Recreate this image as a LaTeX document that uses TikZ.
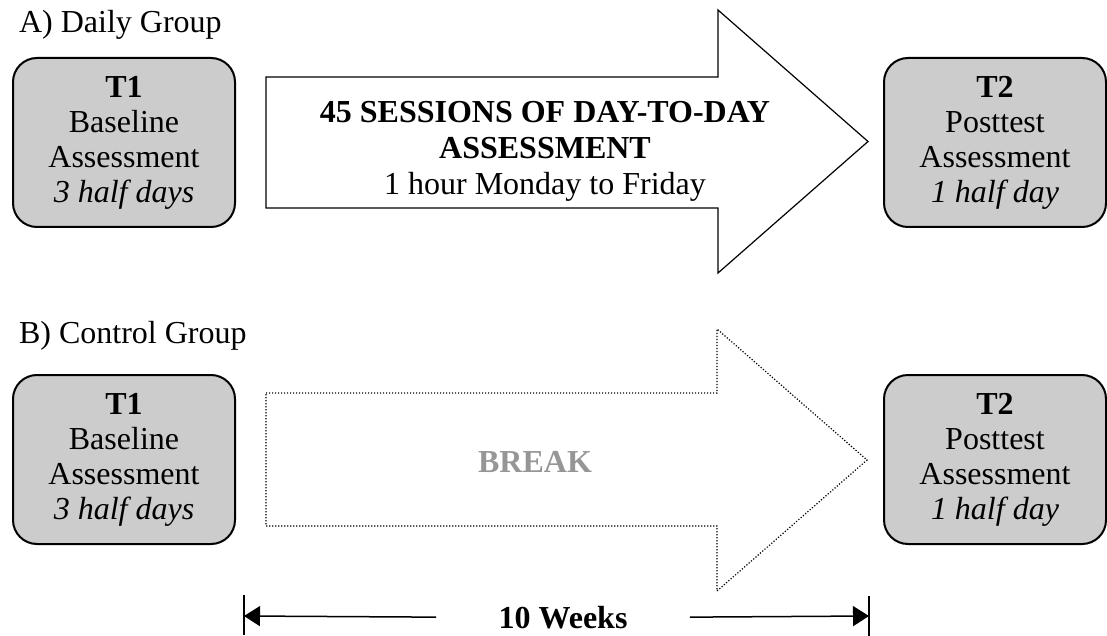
\documentclass[tikz,border=0pt]{standalone}
\usepackage{fontspec}
\setmainfont{Liberation Serif}
\usetikzlibrary{arrows.meta}
\definecolor{boxgray}{RGB}{204,204,204}
\definecolor{breakgray}{RGB}{150,150,150}

\begin{document}
\begin{tikzpicture}[x=0.5pt,y=-0.5pt,
  font=\fontsize{16}{18}\selectfont,
  stage/.style={draw,line width=1pt,fill=boxgray,rounded corners=12pt,
    minimum width=111pt,minimum height=84.5pt,align=center,
    font=\fontsize{16}{17.5}\selectfont},
  phase/.style={draw,line width=0.6pt},
  pause/.style={draw,line width=0.6pt,dash pattern=on 0.6pt off 0.9pt},
  span/.style={line width=0.75pt,-{Triangle[length=8pt,width=10pt]}}]
\useasboundingbox (0,0) rectangle (1107,636);
% daily group
\node[anchor=base west] (daily) at (12,33) {A) Daily Group};
\node[stage] (pre1) at (124,142.5) {\textbf{T1}\\Baseline\\Assessment\\\textit{3 half days}};
\draw[phase] (266,77) -- (718,77) -- (718,10) -- (868,141.5)
      -- (718,273) -- (718,208) -- (266,208) -- cycle;
\node[align=center,inner sep=0pt] (sessions) at (545,151)
      {\textbf{45 SESSIONS OF DAY-TO-DAY}\\\textbf{ASSESSMENT}\\1 hour Monday to Friday};
\node[stage] (post1) at (995,142.5) {\textbf{T2}\\Posttest\\Assessment\\\textit{1 half day}};
% control group
\node[anchor=base west] (control) at (12,343) {B) Control Group};
\node[stage] (pre2) at (124,459.5) {\textbf{T1}\\Baseline\\Assessment\\\textit{3 half days}};
\draw[pause] (266,393) -- (717,393) -- (717,329) -- (867,460)
      -- (717,591) -- (717,526) -- (266,526) -- cycle;
\node[text=breakgray,font=\fontsize{16}{18}\selectfont\bfseries] (pausetext) at (535,462) {BREAK};
\node[stage] (post2) at (995,459.5) {\textbf{T2}\\Posttest\\Assessment\\\textit{1 half day}};
% duration
\coordinate (lbar) at (244,616);
\coordinate (rbar) at (869,616);
\draw[line width=0.75pt] (lbar) ++(0,-21) -- ++(0,40)
      (rbar) ++(0,-20) -- ++(0,40);
\node[anchor=base,inner xsep=31pt,font=\fontsize{16}{18}\selectfont\bfseries] (weeks) at (563,628) {10 Weeks};
\draw[span] (weeks.west) -- (lbar);
\draw[span] (weeks.east) -- (rbar);
\end{tikzpicture}
\end{document}
